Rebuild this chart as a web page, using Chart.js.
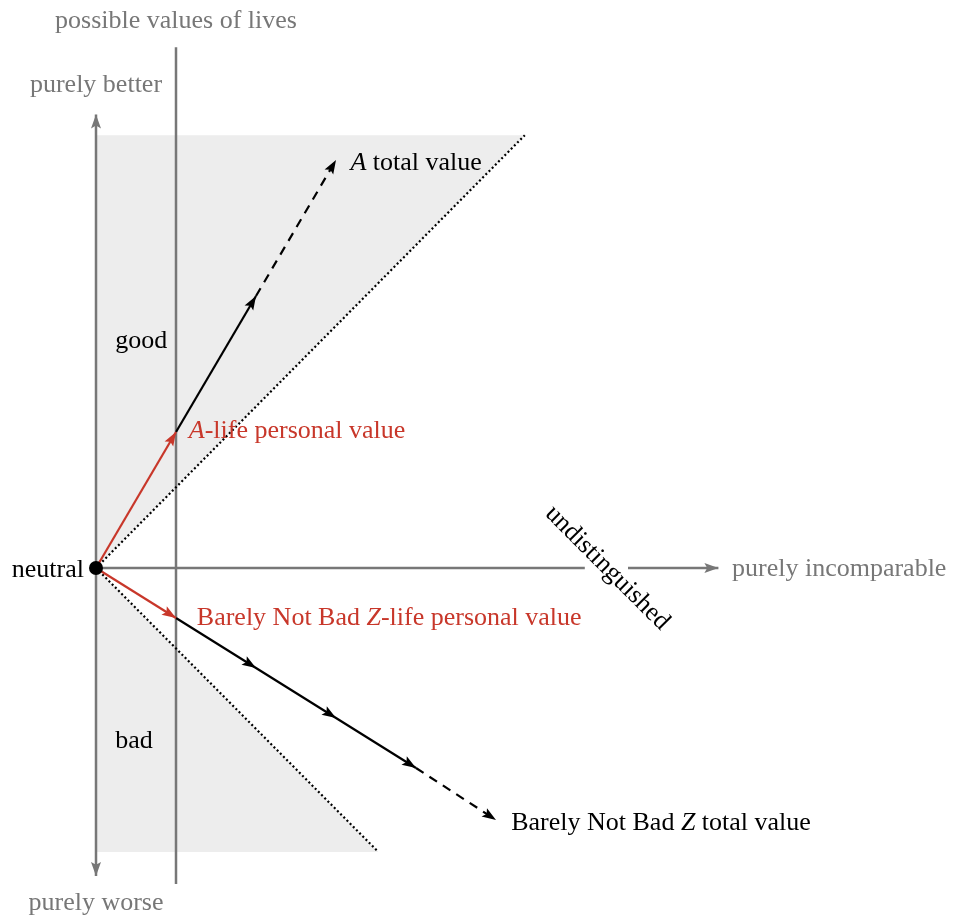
<!DOCTYPE html>
<html>
<head>
<meta charset="utf-8">
<script src="https://cdn.jsdelivr.net/npm/chart.js@4"></script>
<style>
  html, body { margin: 0; padding: 0; background: #fff; }
  #wrap { width: 958px; height: 917px; }
</style>
</head>
<body>
<div id="wrap"><canvas id="chartValores"></canvas></div>
<script>
// === DADOS ===
const neutral = [{ x: 0, y: 0 }];

const aLife = [{ x: 0, y: 0 }, { x: 1, y: 1.7 }];
const aTotalSolid = [{ x: 1, y: 1.7 }, { x: 2, y: 3.4 }];
const aTotalDashed = [{ x: 2, y: 3.4 }, { x: 3, y: 5.1 }];

const zLife = [{ x: 0, y: 0 }, { x: 1, y: -0.625 }];
const zTotalSolid = [{ x: 1, y: -0.625 }, { x: 2, y: -1.25 }, { x: 3, y: -1.875 }, { x: 4, y: -2.5 }];
const zTotalDashed = [{ x: 4, y: -2.5 }, { x: 5, y: -3.15 }];

const upperBound = [{ x: 0, y: 0 }, { x: 5.36, y: 5.41 }];
const lowerBound = [{ x: 0, y: 0 }, { x: 3.53, y: -3.55 }];
const region = [
  { x: 0, y: 5.41 }, { x: 5.36, y: 5.41 }, { x: 0, y: 0 },
  { x: 3.53, y: -3.55 }, { x: 0, y: -3.55 }, { x: 0, y: 5.41 }
];

const betterWorseAxis = [{ x: 0, y: -3.85 }, { x: 0, y: 5.67 }];
const livesLine = [{ x: 1, y: -3.95 }, { x: 1, y: 6.51 }];
const incomparableLeft = [{ x: 0, y: 0 }, { x: 6.11, y: 0 }];
const incomparableRight = [{ x: 6.65, y: 0 }, { x: 7.78, y: 0 }];

const GRAY = "#777777";
const RED = "#c8372a";

// textos: [trecho, itálico]
const labels = [
  { parts: [["possible values of lives", false]], x: 1, y: 6.75, color: GRAY, align: "center" },
  { parts: [["purely better", false]], x: 0, y: 5.95, color: GRAY, align: "center" },
  { parts: [["purely worse", false]], x: 0, y: -4.28, color: GRAY, align: "center" },
  { parts: [["purely incomparable", false]], x: 7.95, y: -0.1, color: GRAY, align: "left" },
  { parts: [["neutral", false]], x: -0.15, y: -0.11, color: "#000", align: "right" },
  { parts: [["good", false]], x: 0.24, y: 2.75, color: "#000", align: "left" },
  { parts: [["bad", false]], x: 0.24, y: -2.25, color: "#000", align: "left" },
  { parts: [["A", true], [" total value", false]], x: 3.18, y: 4.97, color: "#000", align: "left" },
  { parts: [["A", true], ["-life personal value", false]], x: 1.16, y: 1.63, color: RED, align: "left" },
  { parts: [["Barely Not Bad ", false], ["Z", true], ["-life personal value", false]], x: 1.26, y: -0.71, color: RED, align: "left" },
  { parts: [["Barely Not Bad ", false], ["Z", true], [" total value", false]], x: 5.19, y: -3.28, color: "#000", align: "left" },
  { parts: [["undistinguished", false]], x: 6.39, y: 0.0, color: "#000", align: "center", rotate: Math.PI / 4 }
];

const FONT = "Liberation Serif";
const FONT_SIZE = 26;

// === PONTAS DE SETA ===
function drawHead(ctx, from, to, color, len, wid) {
  const ang = Math.atan2(to.y - from.y, to.x - from.x);
  ctx.save();
  ctx.translate(to.x, to.y);
  ctx.rotate(ang);
  ctx.fillStyle = color;
  ctx.beginPath();
  ctx.moveTo(0, 0);
  ctx.lineTo(-len, -wid / 2);
  ctx.lineTo(-len * 0.8, 0);
  ctx.lineTo(-len, wid / 2);
  ctx.closePath();
  ctx.fill();
  ctx.restore();
}

const arrowPlugin = {
  id: "arrows",
  afterDatasetsDraw(chart) {
    const ctx = chart.ctx;
    chart.data.datasets.forEach((ds, i) => {
      if (!ds.arrows) return;
      const pts = chart.getDatasetMeta(i).data;
      const n = pts.length;
      if (ds.arrows === "all") {
        for (let k = 1; k < n; k++) drawHead(ctx, pts[k - 1], pts[k], ds.borderColor, 14, 10);
      } else {
        drawHead(ctx, pts[n - 2], pts[n - 1], ds.borderColor, 14, 10);
        if (ds.arrows === "both") drawHead(ctx, pts[1], pts[0], ds.borderColor, 14, 10);
      }
    });
  }
};

// === TEXTOS ===
const textPlugin = {
  id: "texts",
  afterDraw(chart) {
    const ctx = chart.ctx;
    const sx = chart.scales.x, sy = chart.scales.y;
    labels.forEach(l => {
      const px = sx.getPixelForValue(l.x);
      const py = sy.getPixelForValue(l.y);
      ctx.save();
      ctx.translate(px, py);
      if (l.rotate) ctx.rotate(l.rotate);
      ctx.textBaseline = l.rotate ? "middle" : "alphabetic";
      ctx.fillStyle = l.color;
      const widths = l.parts.map(p => {
        ctx.font = (p[1] ? "italic " : "") + FONT_SIZE + "px '" + FONT + "'";
        return ctx.measureText(p[0]).width;
      });
      const total = widths.reduce((a, b) => a + b, 0);
      let x = l.align === "center" ? -total / 2 : l.align === "right" ? -total : 0;
      l.parts.forEach((p, k) => {
        ctx.font = (p[1] ? "italic " : "") + FONT_SIZE + "px '" + FONT + "'";
        ctx.textAlign = "left";
        ctx.fillText(p[0], x, 0);
        x += widths[k];
      });
      ctx.restore();
    });
  }
};

// === GRÁFICO ===
const line = (data, color, width, extra) => Object.assign({
  data, borderColor: color, borderWidth: width, pointRadius: 0, fill: false, tension: 0
}, extra || {});

new Chart(document.getElementById("chartValores"), {
  type: "line",
  data: {
    datasets: [
      line(region, "rgba(0,0,0,0)", 0, { fill: "shape", backgroundColor: "#ededed", order: 20 }),
      line(betterWorseAxis, GRAY, 2.5, { arrows: "both", order: 15 }),
      line(livesLine, GRAY, 2.5, { order: 15 }),
      line(incomparableLeft, GRAY, 2.5, { order: 15 }),
      line(incomparableRight, GRAY, 2.5, { arrows: "end", order: 15 }),
      line(upperBound, "#000", 2.2, { borderDash: [2, 2.5], order: 10 }),
      line(lowerBound, "#000", 2.2, { borderDash: [2, 2.5], order: 10 }),
      line(aTotalSolid, "#000", 2.2, { arrows: "end", order: 5 }),
      line(aTotalDashed, "#000", 2.2, { arrows: "end", borderDash: [9, 7], order: 5 }),
      line(zTotalSolid, "#000", 2.2, { arrows: "all", order: 5 }),
      line(zTotalDashed, "#000", 2.2, { arrows: "end", borderDash: [9, 7], order: 5 }),
      line(aLife, RED, 2.2, { arrows: "end", order: 4 }),
      line(zLife, RED, 2.2, { arrows: "end", order: 4 }),
      line(neutral, "#000", 0, { pointRadius: 7, pointBackgroundColor: "#000", pointBorderWidth: 0, order: 1 })
    ]
  },
  options: {
    responsive: true,
    maintainAspectRatio: false,
    animation: false,
    events: [],
    layout: { padding: 0, autoPadding: false },
    scales: {
      x: { type: "linear", min: -1.2, max: 10.775, display: false },
      y: { type: "linear", min: -4.3625, max: 7.1, display: false }
    },
    plugins: { legend: { display: false }, tooltip: { enabled: false } }
  },
  plugins: [arrowPlugin, textPlugin]
});
</script>
</body>
</html>
